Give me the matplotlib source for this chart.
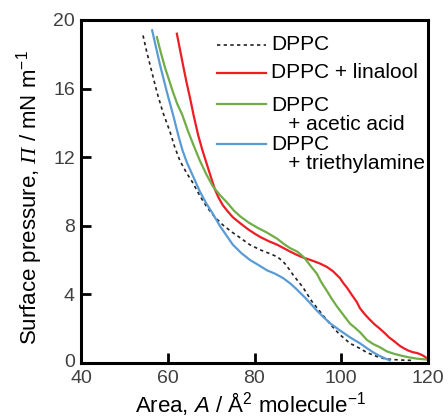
import matplotlib
matplotlib.use("Agg")
import matplotlib.pyplot as plt
from matplotlib.lines import Line2D
from matplotlib.transforms import ScaledTranslation

plt.rcParams['font.family'] = ['Liberation Sans', 'DejaVu Sans']
plt.rcParams['mathtext.fontset'] = 'custom'
plt.rcParams['mathtext.rm'] = 'Liberation Sans'
plt.rcParams['mathtext.it'] = 'Liberation Sans:italic'
plt.rcParams['mathtext.cal'] = 'Liberation Serif:italic'

# ---- data (Area in Å^2/molecule, Surface pressure in mN/m) ----
dppc_x = [54.3, 55.1, 55.9, 56.7, 57.5, 58.9, 60.5, 61.6, 62.8, 64.3, 65.8, 67.4,
          69.0, 70.7, 72.7, 74.7, 76.7, 78.9, 81.3, 83.3, 85.2, 86.2, 87.0, 88.2,
          89.0, 89.8, 91.2, 92.2, 93.2, 95.1, 96.7, 98.2, 99.7, 102.0, 104.3,
          106.0, 108.2, 110.0, 112.0, 114.0, 116.5]
dppc_y = [19.1, 18.2, 17.4, 16.6, 15.8, 14.6, 13.5, 12.6, 11.8, 11.1, 10.5, 9.75,
          9.1, 8.55, 8.05, 7.65, 7.3, 6.9, 6.6, 6.4, 6.2, 6.0, 5.8, 5.4,
          5.1, 4.85, 4.4, 4.0, 3.6, 3.0, 2.5, 2.05, 1.65, 1.15, 0.85,
          0.6, 0.38, 0.25, 0.2, 0.17, 0.15]

lin_x = [62.1, 62.8, 63.5, 64.3, 65.1, 66.0, 67.0, 68.0, 69.0, 70.0, 70.9, 71.8,
         72.7, 73.8, 75.0, 76.7, 78.5, 80.0, 81.3, 83.3, 85.2, 86.7, 88.2, 89.8,
         91.2, 93.0, 95.1, 96.7, 98.1, 99.7, 100.5, 101.3, 102.5, 103.6, 104.3,
         105.4, 106.5, 107.7, 108.9, 110.0, 111.0, 112.3, 113.5, 114.5, 115.5,
         116.5, 117.5, 118.5, 119.2, 119.8]
lin_y = [19.2, 18.3, 17.4, 16.4, 15.5, 14.4, 13.3, 12.4, 11.6, 10.8, 10.1, 9.6,
         9.2, 8.85, 8.5, 8.15, 7.8, 7.55, 7.35, 7.1, 6.9, 6.7, 6.5, 6.3,
         6.15, 6.0, 5.8, 5.6, 5.35, 4.95, 4.65, 4.4, 3.95, 3.55, 3.2,
         2.85, 2.55, 2.25, 2.0, 1.75, 1.5, 1.25, 1.0, 0.85, 0.72,
         0.63, 0.58, 0.48, 0.38, 0.25]

ace_x = [57.5, 58.4, 59.4, 60.3, 61.2, 62.2, 63.3, 64.7, 66.1, 67.4, 68.9, 70.4,
         72.0, 73.7, 75.2, 76.7, 78.6, 80.6, 82.9, 85.2, 87.0, 88.2, 89.8, 90.8,
         91.6, 92.2, 92.8, 93.6, 94.4, 95.2, 95.8, 96.7, 97.8, 99.0, 100.5,
         102.0, 103.2, 104.3, 105.9, 107.4, 108.9, 110.5, 112.0, 113.5, 115.2,
         117.5, 119.8]
ace_y = [19.0, 18.1, 17.2, 16.5, 15.8, 15.1, 14.5, 13.5, 12.6, 11.8, 11.0, 10.3,
         9.8, 9.35, 8.9, 8.55, 8.2, 7.9, 7.6, 7.25, 6.9, 6.7, 6.5, 6.3,
         6.1, 5.9, 5.7, 5.45, 5.2, 4.8, 4.55, 4.2, 3.75, 3.3, 2.8,
         2.3, 2.05, 1.8, 1.35, 1.1, 0.92, 0.68, 0.55, 0.45, 0.35,
         0.25, 0.2]

tea_x = [56.4, 57.3, 58.2, 59.0, 59.8, 61.2, 62.4, 63.4, 64.4, 65.9, 67.4, 68.9,
         70.4, 72.0, 73.9, 75.0, 77.0, 79.0, 81.0, 82.9, 84.8, 86.6, 88.2, 89.5,
         90.5, 91.7, 92.8, 94.4, 95.8, 97.5, 99.7, 102.0, 104.3, 106.0, 107.5,
         108.8, 110.0, 111.2]
tea_y = [19.4, 18.4, 17.4, 16.6, 15.8, 14.5, 13.3, 12.4, 11.7, 10.85, 10.0, 9.3,
         8.7, 8.0, 7.3, 6.9, 6.4, 6.0, 5.7, 5.4, 5.2, 4.95, 4.65, 4.35,
         4.1, 3.8, 3.5, 3.05, 2.7, 2.3, 1.9, 1.5, 1.15, 0.85, 0.6,
         0.42, 0.28, 0.15]

labels = ["DPPC", "DPPC + linalool", "DPPC\n   + acetic acid", "DPPC\n   + triethylamine"]
colors = ["#222222", "#ee1c25", "#70ad47", "#5b9bd5"]
xticks = [40, 60, 80, 100, 120]
yticks = [0, 4, 8, 12, 16, 20]

fig = plt.figure(figsize=(4.48, 4.19), dpi=100)
ax = fig.add_axes([81/448, 56/419, 347/448, 343/419])

dash_style = dict(lw=1.2, dashes=(2.0, 2.0))
line_style = dict(lw=1.6)
ax.plot(dppc_x, dppc_y, color=colors[0], **dash_style)
ax.plot(lin_x, lin_y, color=colors[1], **line_style)
ax.plot(ace_x, ace_y, color=colors[2], **line_style)
ax.plot(tea_x, tea_y, color=colors[3], **line_style)

ax.set_xlim(40, 120)
ax.set_ylim(0, 20)
ax.set_xticks(xticks)
ax.set_yticks(yticks)
ax.tick_params(direction='in', length=7, width=2.0, labelsize=14,
               labelcolor='#404040')
ax.tick_params(axis='y', pad=4.5)
ax.tick_params(axis='x', pad=5)
for s in ax.spines.values():
    s.set_linewidth(2.2)

fig.canvas.draw()
# raise the "0" y tick label slightly, as in the reference
ylabs = ax.get_yticklabels()
ylabs[0].set_transform(ylabs[0].get_transform() + ScaledTranslation(0, 3/100, fig.dpi_scale_trans))

def fx(px):
    return (px - 81) / 347
def fy(py):
    return (363 - py) / 343

ax.set_xlabel(r"Area, $\mathit{A}$ / Å$^{2}$ molecule$^{-1}$", fontsize=16, va='baseline')
ax.xaxis.set_label_coords(0.49, fy(413))
ax.set_ylabel(r"Surface pressure, $\mathcal{Π}$ / mN m$^{-1}$", fontsize=16, va='center')
ax.yaxis.set_label_coords(-0.147, 0.481)

# manual legend (positions in axes fraction)
line_rows = [45, 73, 104, 144]
text_rows = [45, 73, 115, 154]
styles = [dash_style, line_style, line_style, line_style]
LFS = 15
for lab, c, lr, tr, st in zip(labels, colors, line_rows, text_rows, styles):
    ax.add_line(Line2D([fx(217), fx(266)], [fy(lr), fy(lr)], color=c,
                       transform=ax.transAxes, **st))
    ax.text(fx(271), fy(tr), lab, transform=ax.transAxes, fontsize=LFS,
            va='center', ha='left', color='black', linespacing=1.0)

fig.savefig("out.png", dpi=100)
